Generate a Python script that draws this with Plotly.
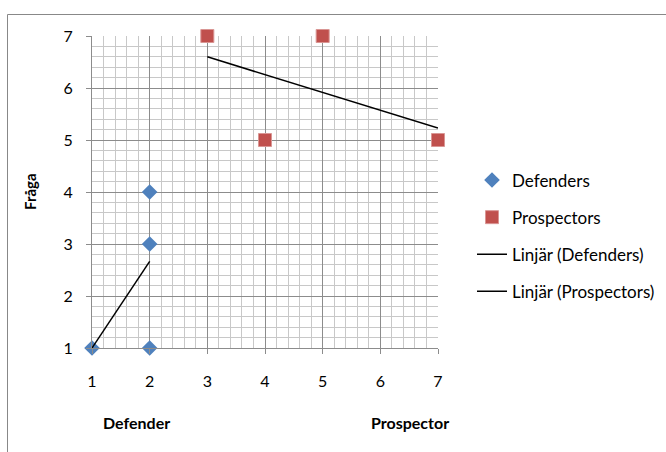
import numpy as np
import plotly.graph_objects as go

# Data
def_x = [1, 2, 2, 2]
def_y = [1, 1, 3, 4]
pro_x = [3, 4, 5, 7]
pro_y = [7, 5, 7, 5]
series_names = ["Defenders", "Prospectors", "Linjär (Defenders)", "Linjär (Prospectors)"]
tick_vals = [1, 2, 3, 4, 5, 6, 7]
y_title = "Fråga"
bottom_labels = ["Defender", "Prospector"]

FONT = "Lato, Calibri, Carlito, sans-serif"

def trend(xs, ys):
    m, b = np.polyfit(xs, ys, 1)
    x0, x1 = min(xs), max(xs)
    return [x0, x1], [m * x0 + b, m * x1 + b]

fig = go.Figure()
fig.add_trace(go.Scatter(x=def_x, y=def_y, mode="markers", name=series_names[0],
                         legendgroup="a", cliponaxis=False,
                         marker=dict(symbol="diamond", size=12, color="#4F81BD")))
fig.add_trace(go.Scatter(x=pro_x, y=pro_y, mode="markers", name=series_names[1],
                         legendgroup="b", cliponaxis=False,
                         marker=dict(symbol="square", size=13, color="#C0504D",
                                     line=dict(color="#D99694", width=1))))
tx, ty = trend(def_x, def_y)
fig.add_trace(go.Scatter(x=tx, y=ty, mode="lines", name=series_names[2], legendgroup="c",
                         line=dict(color="black", width=1.5)))
tx, ty = trend(pro_x, pro_y)
fig.add_trace(go.Scatter(x=tx, y=ty, mode="lines", name=series_names[3], legendgroup="d",
                         line=dict(color="black", width=1.5)))

axis_common = dict(
    range=[1, 7], tickvals=tick_vals, showgrid=True, gridcolor="#8c8c8c", gridwidth=1,
    minor=dict(dtick=0.2, showgrid=True, gridcolor="#c8c8c8", gridwidth=1, ticks=""),
    zeroline=False, showline=True, linecolor="#8c8c8c", linewidth=1,
    ticks="outside", ticklen=5, tickcolor="#8c8c8c",
    tickfont=dict(family=FONT, size=16, color="black"),
)
fig.update_xaxes(**axis_common, ticklabelstandoff=14)
fig.update_yaxes(**axis_common, ticklabelstandoff=10)

fig.update_layout(
    width=666, height=452, margin=dict(l=92, r=228, t=36, b=104, autoexpand=False),
    paper_bgcolor="white", plot_bgcolor="white",
    font=dict(family=FONT, size=16, color="black"),
    legend=dict(x=(472 - 92) / 346, y=(348 - 236) / 312, xanchor="left", yanchor="middle",
                traceorder="grouped", tracegroupgap=12,
                font=dict(family=FONT, size=17, color="black"), itemwidth=30),
    annotations=[
        dict(text="<b>" + y_title + "</b>", xref="paper", yref="paper",
             x=(30 - 92) / 346, y=(348 - 192) / 312, textangle=-90, showarrow=False,
             xanchor="center", yanchor="middle",
             font=dict(family=FONT, size=15)),
        dict(text="<b>" + bottom_labels[0] + "</b>", xref="paper", yref="paper",
             x=(136 - 92) / 346, y=(348 - 422) / 312, showarrow=False,
             xanchor="center", yanchor="middle",
             font=dict(family=FONT, size=16)),
        dict(text="<b>" + bottom_labels[1] + "</b>", xref="paper", yref="paper",
             x=(410 - 92) / 346, y=(348 - 422) / 312, showarrow=False,
             xanchor="center", yanchor="middle",
             font=dict(family=FONT, size=16)),
    ],
    shapes=[
        dict(type="line", xref="paper", yref="paper",
             x0=(7.5 - 92) / 346, x1=(700 - 92) / 346,
             y0=(348 - 14.5) / 312, y1=(348 - 14.5) / 312,
             line=dict(color="#888888", width=1)),
        dict(type="line", xref="paper", yref="paper",
             x0=(7.5 - 92) / 346, x1=(7.5 - 92) / 346,
             y0=(348 - 14.5) / 312, y1=(348 - 500) / 312,
             line=dict(color="#888888", width=1)),
    ],
)

fig.write_html("out.html")
